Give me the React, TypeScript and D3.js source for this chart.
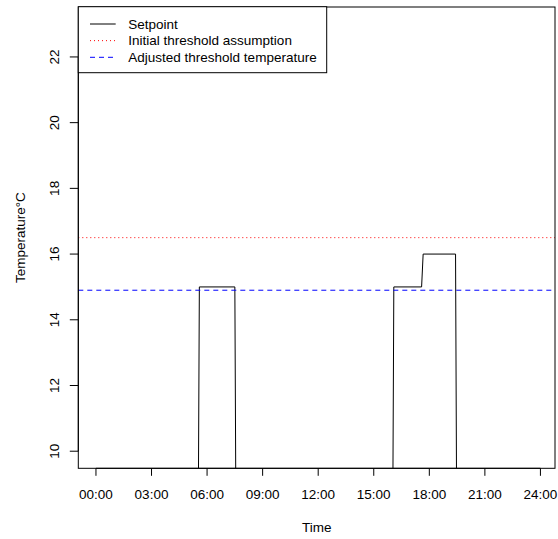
import React from "react";
import * as d3 from "d3";

// Setpoint schedule (hours of day, °C); low value is "off" and falls below the visible range
const setpointHours = [0, 5.5, 5.583, 7.5, 7.583, 16.0, 16.083, 17.583, 17.667, 19.417, 19.5, 23.833];
const setpointValues = [5, 5, 15, 15, 5, 5, 15, 15, 16, 16, 5, 5];
const initialThreshold = 16.5;
const adjustedThreshold = 14.9;
const xTickHours = [0, 3, 6, 9, 12, 15, 18, 21, 24];
const xTickLabels = ["00:00", "03:00", "06:00", "09:00", "12:00", "15:00", "18:00", "21:00", "24:00"];
const yTicks = [10, 12, 14, 16, 18, 20, 22];
const legendLabels = ["Setpoint", "Initial threshold assumption", "Adjusted threshold temperature"];

const W = 558;
const H = 539;
const L = 78.3, R = 555, T = 7, B = 468.3;
const FONT = "'Liberation Sans', Arial, Helvetica, sans-serif";
const FS = 13.5;

function extend(lo: number, hi: number): [number, number] {
  const d = (hi - lo) * 0.04;
  return [lo - d, hi + d];
}

export default function App() {
  const x = d3.scaleLinear().domain(extend(0, 23.833)).range([L, R]);
  const y = d3.scaleLinear().domain(extend(10, 23)).range([B, T]);
  const pts: [number, number][] = setpointHours.map((h, i) => [h, setpointValues[i]]);
  const line = d3
    .line<[number, number]>()
    .x((d) => x(d[0]))
    .y((d) => y(d[1]));

  const legendRows = [
    { label: legendLabels[0], color: "#000000", dash: undefined as string | undefined },
    { label: legendLabels[1], color: "#ff0000", dash: "1,3" },
    { label: legendLabels[2], color: "#0000ff", dash: "5,4" },
  ];

  return (
    <svg
      width={W}
      height={H}
      style={{ position: "absolute", left: 0, top: 0, background: "#fff" }}
      fontFamily={FONT}
      fontSize={FS}
    >
      <defs>
        <clipPath id="plotclip">
          <rect x={L} y={T} width={R - L} height={B - T} />
        </clipPath>
      </defs>
      <rect x={0} y={0} width={W} height={H} fill="#fff" />
      <g clipPath="url(#plotclip)">
        <path d={line(pts) || ""} fill="none" stroke="#000" strokeWidth={1} />
        <line
          x1={L}
          x2={R}
          y1={y(initialThreshold)}
          y2={y(initialThreshold)}
          stroke="#ff0000"
          strokeWidth={1}
          strokeDasharray="1,3"
        />
        <line
          x1={L}
          x2={R}
          y1={y(adjustedThreshold)}
          y2={y(adjustedThreshold)}
          stroke="#0000ff"
          strokeWidth={1}
          strokeDasharray="5,4"
        />
      </g>
      <rect x={L} y={T} width={R - L} height={B - T} fill="none" stroke="#000" strokeWidth={1} />

      {/* x axis */}
      <line x1={x(xTickHours[0])} x2={x(xTickHours[xTickHours.length - 1])} y1={B} y2={B} stroke="#000" />
      {xTickHours.map((h, i) => (
        <g key={h}>
          <line x1={x(h)} x2={x(h)} y1={B} y2={B + 7.5} stroke="#000" />
          <text x={x(h)} y={499} textAnchor="middle">
            {xTickLabels[i]}
          </text>
        </g>
      ))}
      <text x={(L + R) / 2} y={532} textAnchor="middle">
        Time
      </text>

      {/* y axis */}
      <line x1={L} x2={L} y1={y(yTicks[0])} y2={y(yTicks[yTicks.length - 1])} stroke="#000" />
      {yTicks.map((t) => (
        <g key={t}>
          <line x1={L - 8.5} x2={L} y1={y(t)} y2={y(t)} stroke="#000" />
          <text transform={`translate(${58.8},${y(t)}) rotate(-90)`} textAnchor="middle">
            {t}
          </text>
        </g>
      ))}
      <text transform={`translate(${25},${(T + B) / 2}) rotate(-90)`} textAnchor="middle">
        Temperature°C
      </text>

      {/* legend */}
      <rect x={L} y={6.7} width={326.7 - L} height={72.7 - 6.7} fill="#fff" stroke="#000" strokeWidth={1} />
      {legendRows.map((r, i) => {
        const cy = 24 + i * 16.65;
        return (
          <g key={r.label}>
            <line x1={90} x2={115.7} y1={cy} y2={cy} stroke={r.color} strokeDasharray={r.dash} />
            <text x={128.3} y={cy + 4.8}>
              {r.label}
            </text>
          </g>
        );
      })}
    </svg>
  );
}
